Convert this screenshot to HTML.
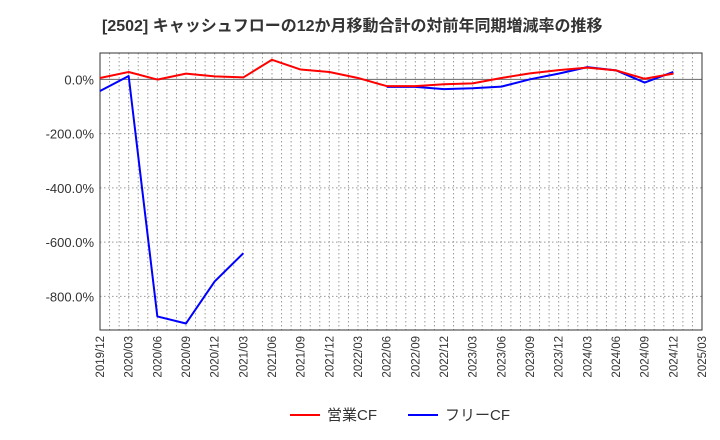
<!DOCTYPE html>
<html><head><meta charset="utf-8"><style>
body{margin:0;background:#fff;}
svg{display:block;font-family:"Liberation Sans","Noto Sans CJK JP",sans-serif;}
</style></head><body>
<svg id="chart" width="720" height="440">
<text x="102" y="31" font-size="16" font-weight="bold" fill="#333">[2502]  キャッシュフローの12か月移動合計の対前年同期増減率の推移</text>
<g id="grid"></g><g id="axes"></g><g id="series"></g>
<g>
<line x1="290" y1="415" x2="320" y2="415" stroke="#f00" stroke-width="2"/>
<text x="327" y="420" font-size="15" fill="#333">営業CF</text>
<line x1="408" y1="415" x2="438" y2="415" stroke="#00f" stroke-width="2"/>
<text x="445" y="420" font-size="15" fill="#333">フリーCF</text>
</g>
</svg>
<script>
const xLabels=["2019/12","2020/03","2020/06","2020/09","2020/12","2021/03","2021/06","2021/09","2021/12","2022/03","2022/06","2022/09","2022/12","2023/03","2023/06","2023/09","2023/12","2024/03","2024/06","2024/09","2024/12","2025/03"];
const yTicks=[0,-200,-400,-600,-800];
const operatingCF=[5,27,-1,21,11,7,72,36,27,5,-25,-25,-18,-15,5,22,34,43,33,2,21];
const freeCF=[-43,12,-874,-900,-745,-641,null,null,null,null,-28,-28,-36,-33,-27,0,21,45,33,-12,27];
const L=100,R=702,T=53,B=330,yMax=97,yMin=-924;
const NS="http://www.w3.org/2000/svg";
const xs=i=>L+i*(R-L)/(xLabels.length-1);
const ys=v=>T+(yMax-v)/(yMax-yMin)*(B-T);
function mk(t,a,p){const e=document.createElementNS(NS,t);for(const k in a)e.setAttribute(k,a[k]);p.appendChild(e);return e;}
const grid=document.getElementById('grid'),axes=document.getElementById('axes'),ser=document.getElementById('series');
for(let m=1;m<(xLabels.length-1)*3;m++){const x=L+m*(R-L)/((xLabels.length-1)*3);
const g=mk('line',{x1:x,x2:x,y1:T,y2:B,stroke:'#999','stroke-dasharray':'1.5,2.5','stroke-width':1},grid);

}
yTicks.forEach(v=>{const y=ys(v);
const g=mk('line',{x1:L,x2:R,y1:y,y2:y,stroke:v===0?'#666':'#999','stroke-dasharray':v===0?'none':'1.5,2.5','stroke-width':1},grid);

});
const fr=mk('rect',{x:L,y:T,width:R-L,height:B-T,fill:'none',stroke:'#333','stroke-width':1},axes);


yTicks.forEach(v=>{const t=mk('text',{x:L-6,y:ys(v)+5,'text-anchor':'end','font-size':13,fill:'#333'},axes);t.textContent=v.toFixed(1)+'%';

});
xLabels.forEach((s,i)=>{const x=xs(i);const t=mk('text',{x:0,y:0,'text-anchor':'end','font-size':11.5,fill:'#333',transform:`translate(${x+4},${B+6}) rotate(-90)`},axes);t.textContent=s;

});
function line(data,color,name){let d='',pen=false;data.forEach((v,i)=>{if(v===null){pen=false;return;}d+=(pen?'L':'M')+xs(i)+','+ys(v);pen=true;});
const p=mk('path',{d:d,fill:'none',stroke:color,'stroke-width':2,'stroke-linejoin':'round'},ser);

}
line(freeCF,'#0000ff','free-cf-line');
line(operatingCF,'#ff0000','operating-cf-line');
</script>
</body></html>
